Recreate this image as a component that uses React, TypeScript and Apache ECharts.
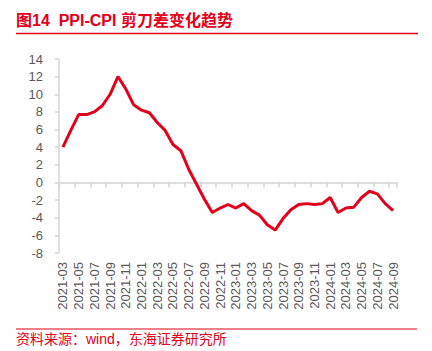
import React, { useEffect, useRef } from "react";
import * as echarts from "echarts";

const months: string[] = [
  "2021-03","2021-04","2021-05","2021-06","2021-07","2021-08","2021-09","2021-10","2021-11","2021-12",
  "2022-01","2022-02","2022-03","2022-04","2022-05","2022-06","2022-07","2022-08","2022-09","2022-10","2022-11","2022-12",
  "2023-01","2023-02","2023-03","2023-04","2023-05","2023-06","2023-07","2023-08","2023-09","2023-10","2023-11","2023-12",
  "2024-01","2024-02","2024-03","2024-04","2024-05","2024-06","2024-07","2024-08","2024-09",
];

const spread: number[] = [
  4.0, 5.9, 7.7, 7.7, 8.0, 8.7, 10.0, 12.0, 10.6, 8.8,
  8.2, 7.9, 6.8, 5.9, 4.3, 3.6, 1.5, -0.2, -1.9, -3.4, -2.9, -2.5,
  -2.9, -2.4, -3.2, -3.7, -4.8, -5.4, -4.1, -3.1, -2.5, -2.4, -2.5, -2.4,
  -1.7, -3.4, -2.9, -2.8, -1.7, -1.0, -1.3, -2.4, -3.2,
];

const yMin = -8;
const yMax = 14;
const yStep = 2;

const titleText = "图14  PPI-CPI 剪刀差变化趋势";
const sourceText = "资料来源：wind，东海证券研究所";

const RED = "#e2001a";
const FONT = "'Liberation Sans', Arial, 'Noto Sans CJK SC', sans-serif";

export default function App() {
  const ref = useRef<HTMLDivElement>(null);
  useEffect(() => {
    if (!ref.current) return;
    const chart = echarts.init(ref.current, undefined, { renderer: "svg" });
    chart.setOption({
      animation: false,
      backgroundColor: "#ffffff",
      textStyle: { fontFamily: FONT },
      grid: { left: 59, right: 35, top: 59, bottom: 98 },
      graphic: [
        {
          type: "text",
          left: 16,
          top: 12,
          style: { text: titleText, fill: RED, fontSize: 16, fontWeight: "bold", fontFamily: FONT },
        },
        {
          type: "line",
          shape: { x1: 16, y1: 33.5, x2: 418, y2: 33.5 },
          style: { stroke: RED, lineWidth: 1.5 },
        },
        {
          type: "line",
          shape: { x1: 16, y1: 329, x2: 417, y2: 329 },
          style: { stroke: RED, lineWidth: 1.2 },
        },
        {
          type: "text",
          left: 16,
          top: 332,
          style: { text: sourceText, fill: RED, fontSize: 14, fontFamily: FONT },
        },
      ],
      xAxis: [
        {
          type: "category",
          data: months,
          boundaryGap: true,
          axisLine: { show: true, onZero: true, lineStyle: { color: "#d4d4d4", width: 1.5 } },
          axisTick: { show: true, interval: 1, length: 5, lineStyle: { color: "#d4d4d4", width: 1.5 } },
          axisLabel: { show: false },
        },
        {
          type: "category",
          data: months,
          boundaryGap: true,
          position: "bottom",
          axisLine: { show: false, onZero: false },
          axisTick: { show: false },
          axisLabel: {
            show: true,
            interval: 1,
            rotate: 90,
            margin: 9,
            color: "#595959",
            fontSize: 13,
            fontFamily: FONT,
          },
        },
      ],
      yAxis: {
        type: "value",
        min: yMin,
        max: yMax,
        interval: yStep,
        axisLine: { show: true, lineStyle: { color: "#d4d4d4", width: 1.5 } },
        axisTick: { show: true, length: 4, lineStyle: { color: "#d4d4d4", width: 1.5 } },
        splitLine: { show: false },
        axisLabel: { color: "#595959", fontSize: 13, margin: 16, fontFamily: FONT },
      },
      series: [
        {
          type: "line",
          data: spread,
          xAxisIndex: 0,
          showSymbol: false,
          symbol: "none",
          lineStyle: { color: RED, width: 3 },
        },
      ],
    });
    return () => chart.dispose();
  }, []);
  return <div ref={ref} style={{ width: 432, height: 351, position: "absolute", left: 0, top: 0 }} />;
}
